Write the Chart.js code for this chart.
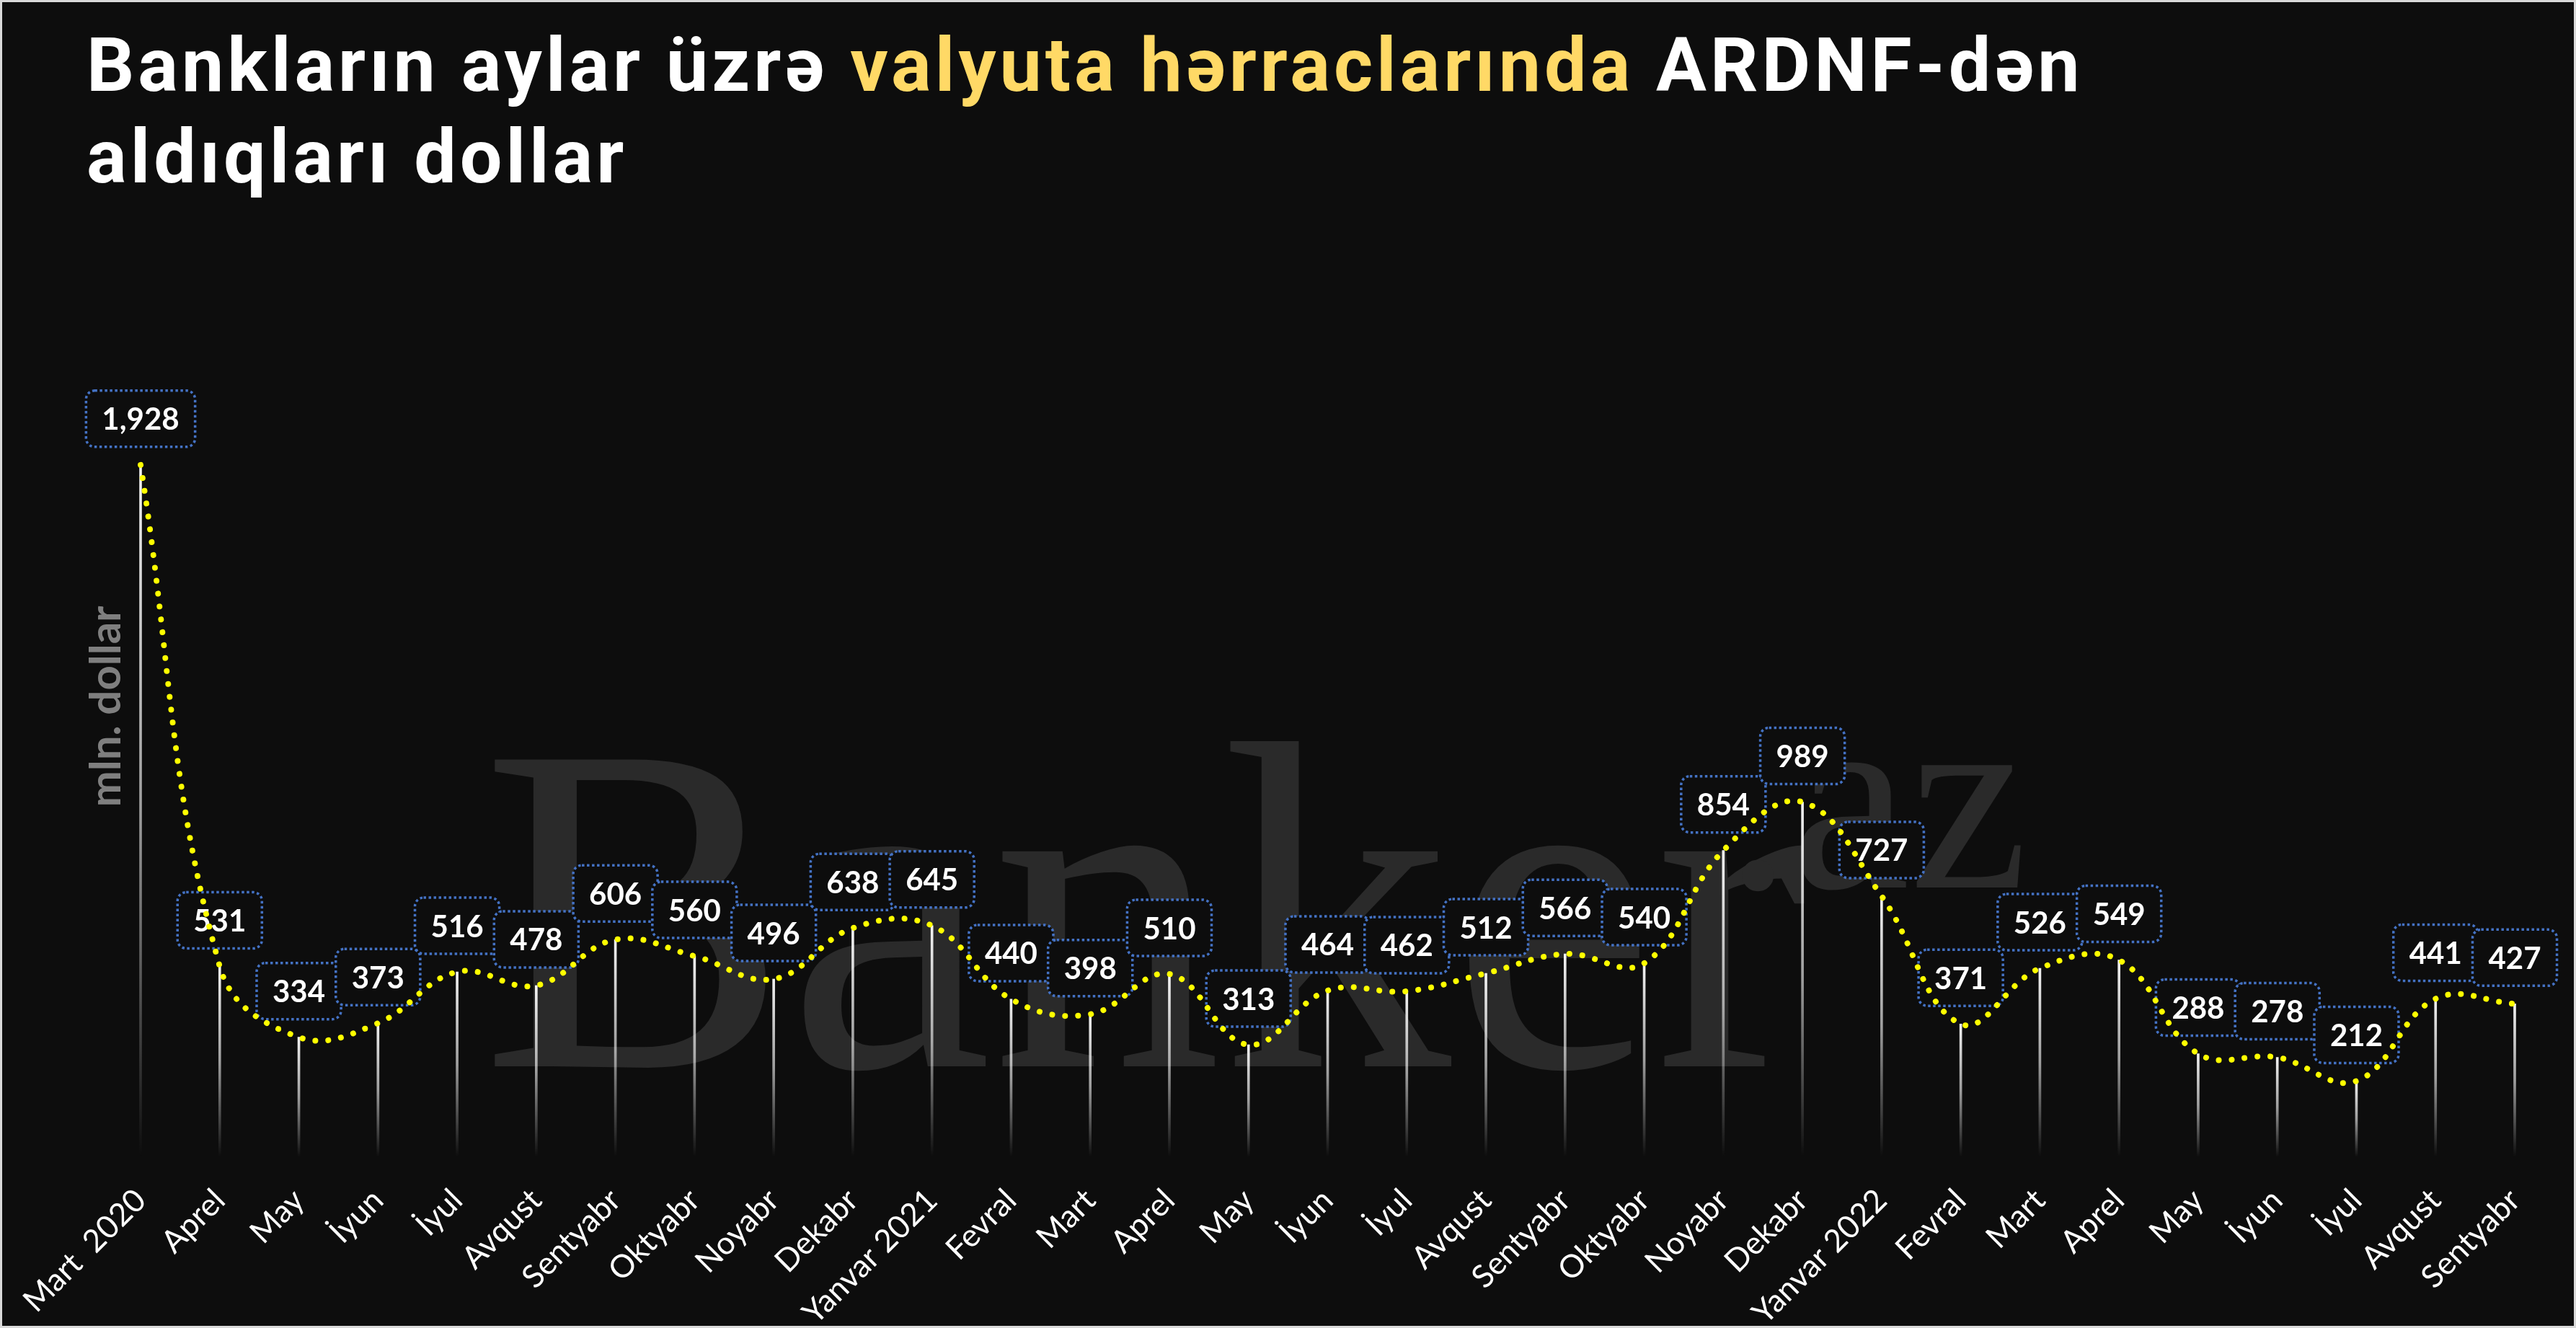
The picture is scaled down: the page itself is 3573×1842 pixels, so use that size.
<!DOCTYPE html>
<html lang="az">
<head>
<meta charset="utf-8">
<title>Bankların aylar üzrə valyuta hərraclarında ARDNF-dən aldıqları dollar</title>
<script src="https://cdn.jsdelivr.net/npm/chart.js@4.4.1/dist/chart.umd.min.js"></script>
<style>
    html, body { margin: 0; padding: 0; background: #0d0d0d; }
    #wrap { position: relative; width: 3573px; height: 1842px; background: #0d0d0d; overflow: hidden; }
    #chart { position: absolute; left: 0; top: 0; }
    h1 {
        position: absolute; left: 120px; top: 27px; margin: 0;
        font: 700 104px/127px Roboto, sans-serif; letter-spacing: 5px;
        color: #fff; white-space: nowrap;
    }
    h1 span { color: #ffd966; }
    #frame { position: absolute; inset: 0; border: 3px solid #d9d9d9; pointer-events: none; }
</style>
</head>
<body>
<div id="wrap">
    <canvas id="chart" width="3573" height="1842"></canvas>
    <h1>Bankların aylar üzrə <span>valyuta hərraclarında</span> ARDNF-dən<br>aldıqları dollar</h1>
    <div id="frame"></div>
</div>
<script>
// ========== DATA ==========
const months = ['Mart  2020', 'Aprel', 'May', 'İyun', 'İyul', 'Avqust', 'Sentyabr', 'Oktyabr', 'Noyabr', 'Dekabr',
    'Yanvar 2021', 'Fevral', 'Mart', 'Aprel', 'May', 'İyun', 'İyul', 'Avqust', 'Sentyabr', 'Oktyabr', 'Noyabr', 'Dekabr',
    'Yanvar 2022', 'Fevral', 'Mart', 'Aprel', 'May', 'İyun', 'İyul', 'Avqust', 'Sentyabr'];
// mln. dollar
const purchases = [1928, 531, 334, 373, 516, 478, 606, 560, 496, 638,
    645, 440, 398, 510, 313, 464, 462, 512, 566, 540, 854, 989,
    727, 371, 526, 549, 288, 278, 212, 441, 427];

// Banker.az watermark behind everything
const watermark = {
    id: 'watermark',
    beforeDatasetsDraw(chart) {
        const c = chart.ctx;
        c.save();
        c.fillStyle = '#2a2a2a';
        c.textBaseline = 'alphabetic';
        c.font = '650px "Liberation Serif", serif';
        const w = c.measureText('Banker').width;
        c.translate(668, 1479);
        c.scale(1840 / w, 1);
        c.fillText('Banker', 0, 0);
        c.restore();
        c.save();
        c.fillStyle = '#2a2a2a';
        c.font = '370px "Liberation Serif", serif';
        c.fillText('.az', 2392, 1231);
        c.restore();
    }
};

// dotted value boxes, drawn just before the yellow line
const valueBoxes = {
    id: 'valueBoxes',
    beforeDatasetDraw(chart, args) {
        if (args.index !== 0) return;
        const c = chart.ctx;
        c.save();
        c.font = 'bold 42px Lato, sans-serif';
        c.textAlign = 'center';
        c.textBaseline = 'middle';
        args.meta.data.forEach((pt, i) => {
            const txt = purchases[i].toLocaleString('en-US');
            const w = c.measureText(txt).width + 44;
            const h = 78;
            const x = pt.x - w / 2;
            const y = pt.y - 25 - h;
            c.beginPath();
            c.roundRect(x, y, w, h, 12);
            c.fillStyle = '#0d0d0d';
            c.fill();
            c.setLineDash([3.5, 3.5]);
            c.lineWidth = 3.5;
            c.strokeStyle = '#4472c4';
            c.stroke();
            c.fillStyle = '#ffffff';
            c.fillText(txt, pt.x, y + h / 2 + 2);
        });
        c.restore();
    }
};

function needleGradient(ctx) {
    const chart = ctx.chart;
    const area = chart.chartArea;
    if (!area || ctx.type !== 'data') return '#ffffff';
    const top = chart.scales.y.getPixelForValue(ctx.parsed.y);
    const g = chart.ctx.createLinearGradient(0, top, 0, area.bottom);
    g.addColorStop(0, 'rgba(255,255,255,0.95)');
    g.addColorStop(0.5, 'rgba(255,255,255,0.6)');
    g.addColorStop(1, 'rgba(255,255,255,0)');
    return g;
}

Chart.defaults.font.family = 'Lato';

new Chart(document.getElementById('chart').getContext('2d'), {
    data: {
        labels: months,
        datasets: [
            {
                type: 'line',
                label: 'mln. dollar',
                data: purchases,
                order: 0,
                borderColor: '#ffff00',
                borderWidth: 8,
                borderDash: [0.1, 17.9],
                borderCapStyle: 'round',
                tension: 0.4,
                pointRadius: 0,
                fill: false,
                clip: false
            },
            {
                type: 'bar',
                data: purchases,
                order: 1,
                barThickness: 3,
                backgroundColor: needleGradient,
                borderWidth: 0,
                clip: false
            }
        ]
    },
    options: {
        responsive: false,
        animation: false,
        devicePixelRatio: 1,
        layout: { padding: { top: 355, right: 85, bottom: 0, left: 0 } },
        plugins: {
            legend: { display: false },
            tooltip: { enabled: false }
        },
        scales: {
            x: {
                offset: false,
                grid: { display: false, offset: false },
                border: { display: false },
                ticks: {
                    color: '#ffffff',
                    font: { family: 'Lato', size: 44 },
                    minRotation: 45,
                    maxRotation: 45,
                    autoSkip: false,
                    padding: 26
                },
                afterFit(scale) { scale.height = 237; }
            },
            y: {
                min: 0,
                max: 2510,
                ticks: { display: false },
                grid: { display: false },
                border: { display: false },
                title: {
                    display: true,
                    text: 'mln. dollar',
                    color: '#7f7f7f',
                    font: { family: 'Lato', size: 60, weight: 'bold' },
                    padding: { top: 112, bottom: 0 }
                },
                afterFit(scale) { scale.width = 195; }
            }
        }
    },
    plugins: [watermark, valueBoxes]
});
</script>
</body>
</html>
